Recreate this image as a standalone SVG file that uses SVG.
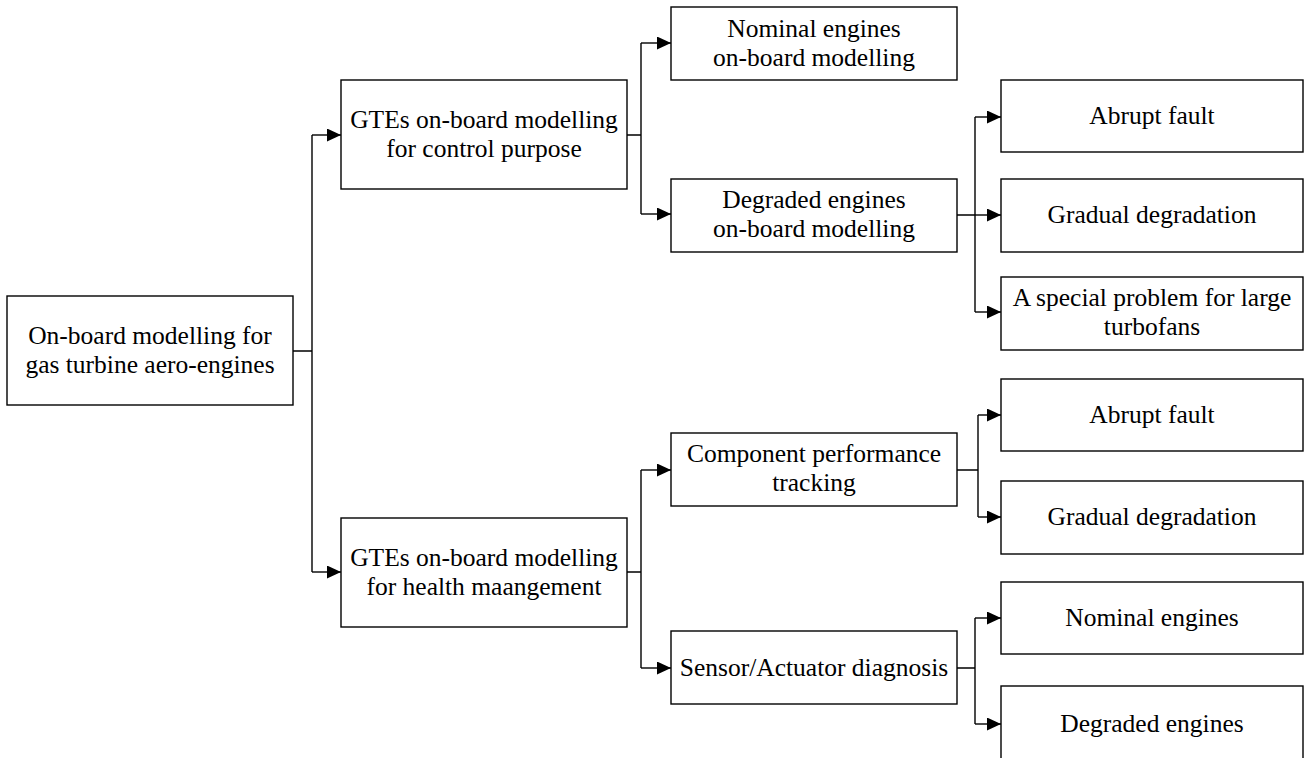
<svg xmlns="http://www.w3.org/2000/svg" width="1307" height="758" viewBox="0 0 1307 758">
  <defs>
    <marker id="arrow" markerUnits="userSpaceOnUse" markerWidth="15" markerHeight="13" refX="14" refY="6.5" orient="auto">
      <path d="M0,0 L14,6.5 L0,13 Z" fill="#000"/>
    </marker>
    <style>
      .box { fill: #fff; stroke: #000; stroke-width: 1.4; }
      .lbl { font-family: "Liberation Serif", "Times New Roman", serif; font-size: 25.5px; fill: #000; text-anchor: middle; }
      .wire { fill: none; stroke: #000; stroke-width: 1.4; }
      .arr { fill: none; stroke: #000; stroke-width: 1.4; marker-end: url(#arrow); }
    </style>
  </defs>
  <rect width="1307" height="758" fill="#fff"/>

  <!-- connectors -->
  <g id="connectors">
    <!-- root to the two branches -->
    <path class="wire" d="M293,351 H312 M312,135 V572"/>
    <path class="arr" d="M312,135 H341"/>
    <path class="arr" d="M312,572 H341"/>
    <!-- control purpose branch -->
    <path class="wire" d="M627,135 H641 M641,43 V214"/>
    <path class="arr" d="M641,43 H671"/>
    <path class="arr" d="M641,214 H671"/>
    <!-- degraded engines branch -->
    <path class="wire" d="M957,215 H975 M975,117 V312"/>
    <path class="arr" d="M975,117 H1001"/>
    <path class="arr" d="M975,215 H1001"/>
    <path class="arr" d="M975,312 H1001"/>
    <!-- health management branch -->
    <path class="wire" d="M627,572 H641 M641,470 V668"/>
    <path class="arr" d="M641,470 H671"/>
    <path class="arr" d="M641,668 H671"/>
    <!-- component tracking branch -->
    <path class="wire" d="M957,470 H978 M978,415 V517"/>
    <path class="arr" d="M978,415 H1001"/>
    <path class="arr" d="M978,517 H1001"/>
    <!-- sensor/actuator branch -->
    <path class="wire" d="M957,668 H975 M975,618 V724"/>
    <path class="arr" d="M975,618 H1001"/>
    <path class="arr" d="M975,724 H1001"/>
  </g>

  <!-- nodes -->
  <g id="root">
    <rect class="box" x="7" y="296" width="286" height="109"/>
    <text class="lbl" x="150" y="344">On-board modelling for</text>
    <text class="lbl" x="150" y="373">gas turbine aero-engines</text>
  </g>
  <g id="control">
    <rect class="box" x="341" y="80" width="286" height="109"/>
    <text class="lbl" x="484" y="128">GTEs on-board modelling</text>
    <text class="lbl" x="484" y="157">for control purpose</text>
  </g>
  <g id="health">
    <rect class="box" x="341" y="518" width="286" height="109"/>
    <text class="lbl" x="484" y="566">GTEs on-board modelling</text>
    <text class="lbl" x="484" y="595">for health maangement</text>
  </g>
  <g id="nominal-onboard">
    <rect class="box" x="671" y="7" width="286" height="73"/>
    <text class="lbl" x="814" y="37">Nominal engines</text>
    <text class="lbl" x="814" y="66">on-board modelling</text>
  </g>
  <g id="degraded-onboard">
    <rect class="box" x="671" y="179" width="286" height="73"/>
    <text class="lbl" x="814" y="208">Degraded engines</text>
    <text class="lbl" x="814" y="237">on-board modelling</text>
  </g>
  <g id="abrupt-fault-1">
    <rect class="box" x="1001" y="80" width="302" height="72"/>
    <text class="lbl" x="1152" y="124">Abrupt fault</text>
  </g>
  <g id="gradual-degradation-1">
    <rect class="box" x="1001" y="179" width="302" height="73"/>
    <text class="lbl" x="1152" y="223">Gradual degradation</text>
  </g>
  <g id="special-problem">
    <rect class="box" x="1001" y="277" width="302" height="73"/>
    <text class="lbl" x="1152" y="306">A special problem for large</text>
    <text class="lbl" x="1152" y="335">turbofans</text>
  </g>
  <g id="component-tracking">
    <rect class="box" x="671" y="433" width="286" height="73"/>
    <text class="lbl" x="814" y="462">Component performance</text>
    <text class="lbl" x="814" y="491">tracking</text>
  </g>
  <g id="sensor-actuator">
    <rect class="box" x="671" y="631" width="286" height="73"/>
    <text class="lbl" x="814" y="676">Sensor/Actuator diagnosis</text>
  </g>
  <g id="abrupt-fault-2">
    <rect class="box" x="1001" y="379" width="302" height="72"/>
    <text class="lbl" x="1152" y="423">Abrupt fault</text>
  </g>
  <g id="gradual-degradation-2">
    <rect class="box" x="1001" y="481" width="302" height="73"/>
    <text class="lbl" x="1152" y="525">Gradual degradation</text>
  </g>
  <g id="nominal-engines">
    <rect class="box" x="1001" y="582" width="302" height="72"/>
    <text class="lbl" x="1152" y="626">Nominal engines</text>
  </g>
  <g id="degraded-engines">
    <rect class="box" x="1001" y="686" width="302" height="80"/>
    <text class="lbl" x="1152" y="732">Degraded engines</text>
  </g>
</svg>
